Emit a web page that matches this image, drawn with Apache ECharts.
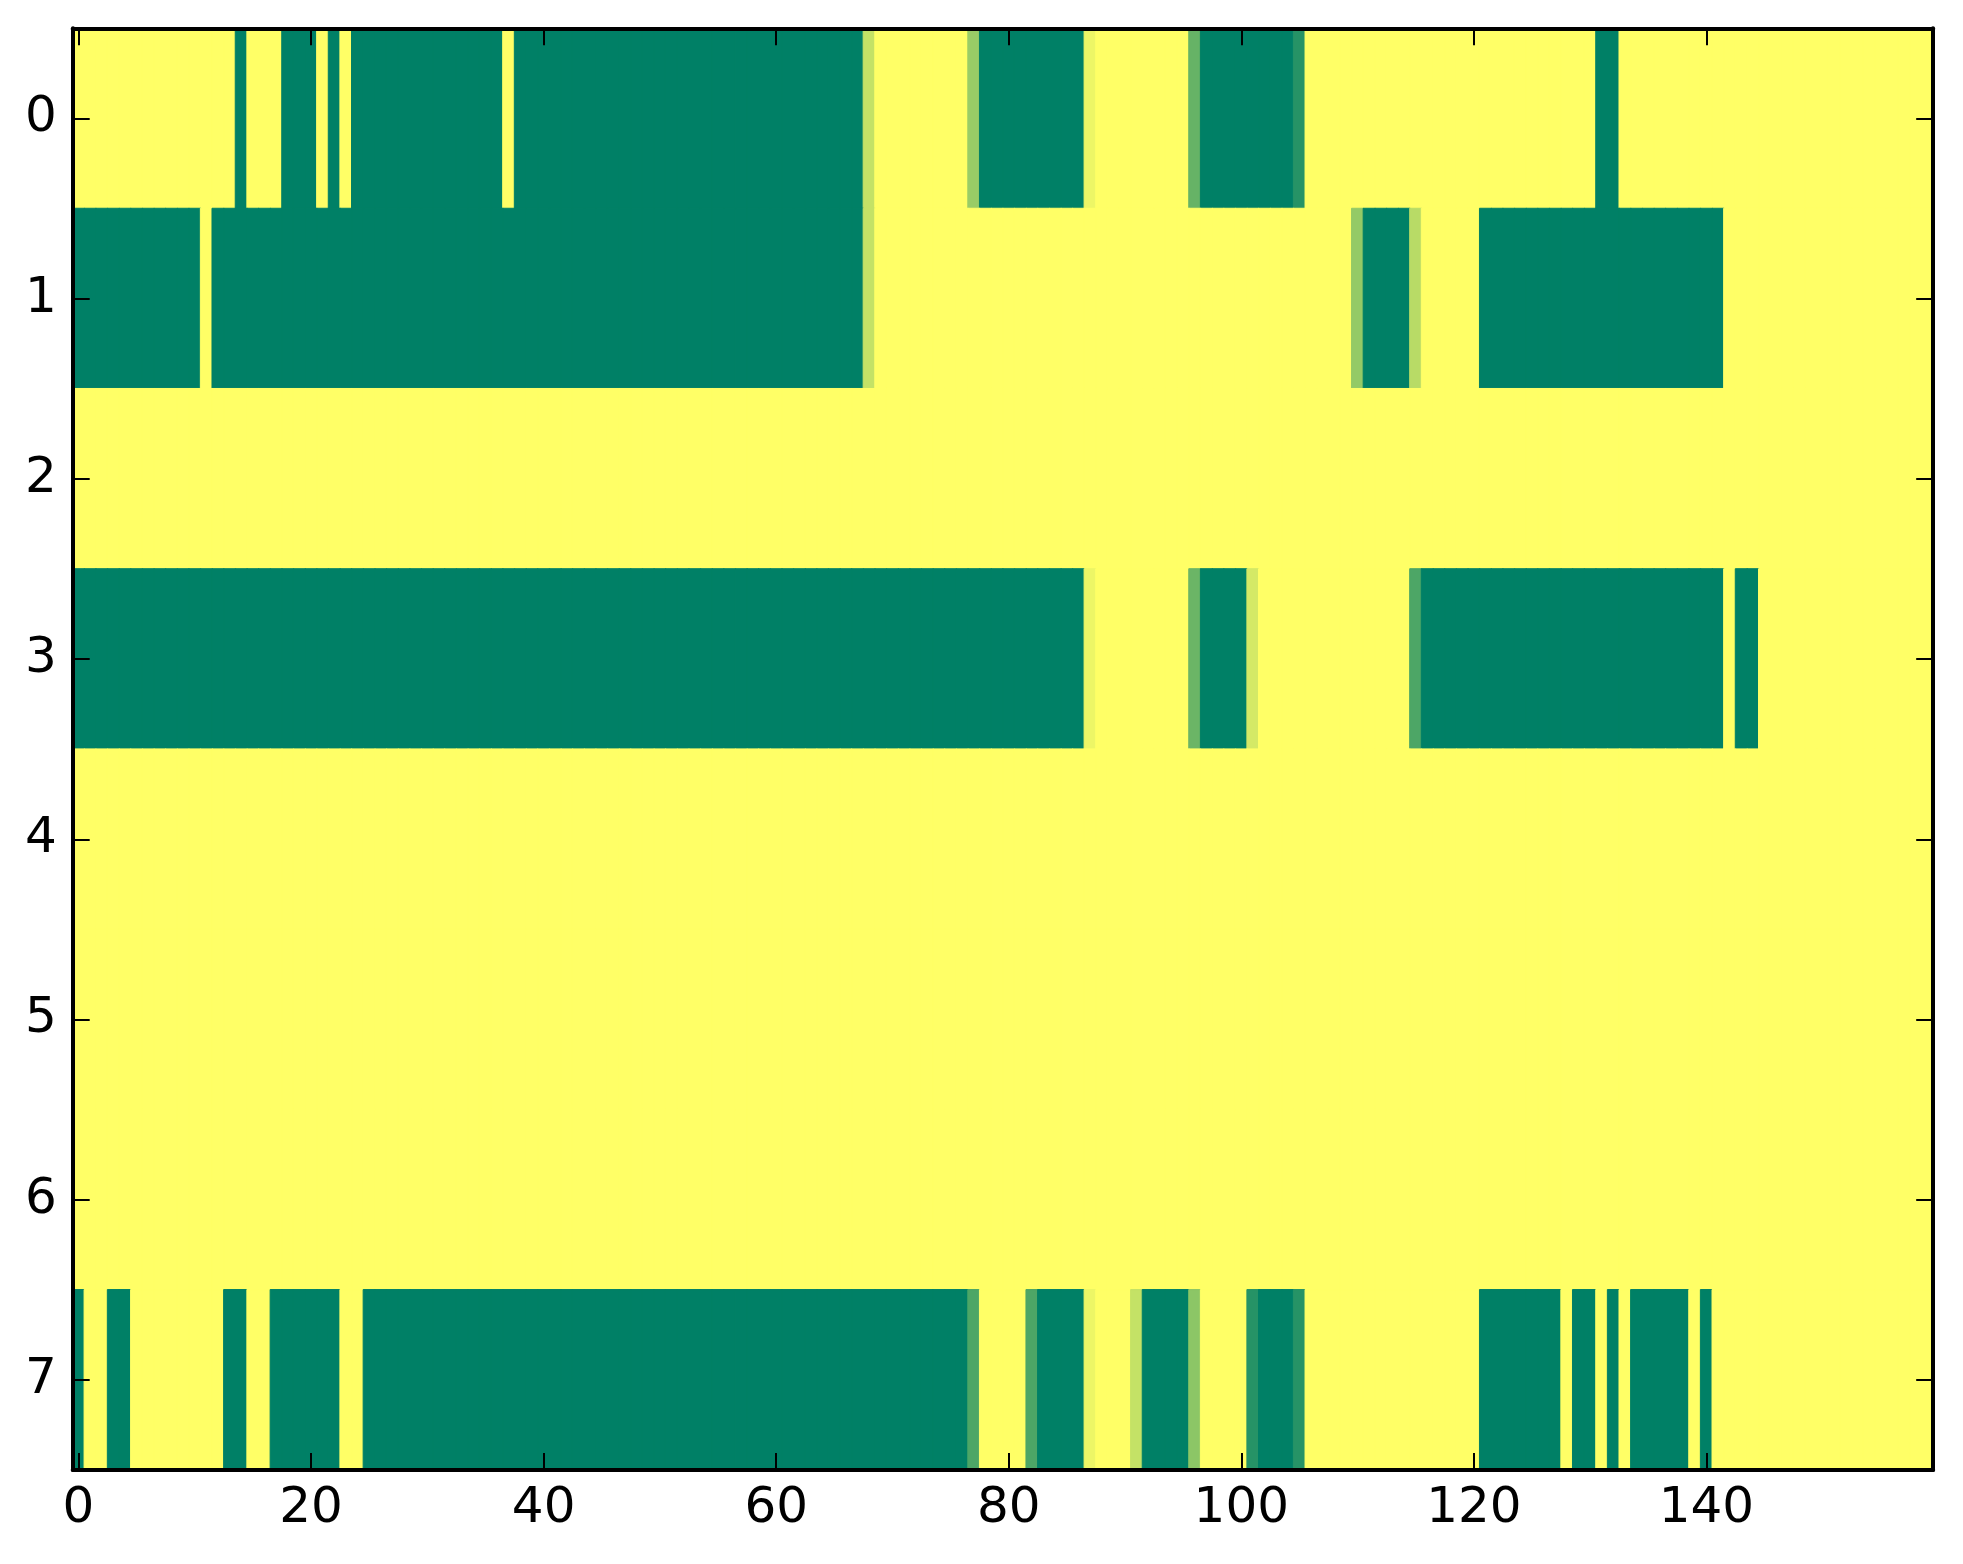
<!DOCTYPE html>
<html>
<head>
<meta charset="utf-8">
<script src="https://cdn.jsdelivr.net/npm/echarts@6/dist/echarts.min.js"></script>
<style>
html,body{margin:0;padding:0;background:#fff;}
#chart{width:1963px;height:1564px;}
</style>
</head>
<body>
<div id="chart"></div>
<script>
// Row labels (y categories), top to bottom
var rowLabels = ['0','1','2','3','4','5','6','7'];
// Tick labels on the x axis
var xTickLabels = [0, 20, 40, 60, 80, 100, 120, 140];

// Cell values per row, 160 columns each (0 = green, 1 = yellow)
var row0 = [
 1,1,1,1,1,1,1,1,1,1, 1,1,1,1,0,1,1,1,0,0,
 0,1,0,1,0,0,0,0,0,0, 0,0,0,0,0,0,0,1,0,0,
 0,0,0,0,0,0,0,0,0,0, 0,0,0,0,0,0,0,0,0,0,
 0,0,0,0,0,0,0,0,0.77,1, 1,1,1,1,1,1,1,0.6,0,0,
 0,0,0,0,0,0,0,0.93,1,1, 1,1,1,1,1,1,0.4,0,0,0,
 0,0,0,0,0,0.15,1,1,1,1, 1,1,1,1,1,1,1,1,1,1,
 1,1,1,1,1,1,1,1,1,1, 1,0,0,1,1,1,1,1,1,1,
 1,1,1,1,1,1,1,1,1,1, 1,1,1,1,1,1,1,1,1,1
];
var row1 = [
 0,0,0,0,0,0,0,0,0,0, 0,1,0,0,0,0,0,0,0,0,
 0,0,0,0,0,0,0,0,0,0, 0,0,0,0,0,0,0,0,0,0,
 0,0,0,0,0,0,0,0,0,0, 0,0,0,0,0,0,0,0,0,0,
 0,0,0,0,0,0,0,0,0.77,1, 1,1,1,1,1,1,1,1,1,1,
 1,1,1,1,1,1,1,1,1,1, 1,1,1,1,1,1,1,1,1,1,
 1,1,1,1,1,1,1,1,1,1, 0.58,0,0,0,0,0.72,1,1,1,1,
 1,0,0,0,0,0,0,0,0,0, 0,0,0,0,0,0,0,0,0,0,
 0,0,1,1,1,1,1,1,1,1, 1,1,1,1,1,1,1,1,1,1
];
var row2 = [
 1,1,1,1,1,1,1,1,1,1, 1,1,1,1,1,1,1,1,1,1,
 1,1,1,1,1,1,1,1,1,1, 1,1,1,1,1,1,1,1,1,1,
 1,1,1,1,1,1,1,1,1,1, 1,1,1,1,1,1,1,1,1,1,
 1,1,1,1,1,1,1,1,1,1, 1,1,1,1,1,1,1,1,1,1,
 1,1,1,1,1,1,1,1,1,1, 1,1,1,1,1,1,1,1,1,1,
 1,1,1,1,1,1,1,1,1,1, 1,1,1,1,1,1,1,1,1,1,
 1,1,1,1,1,1,1,1,1,1, 1,1,1,1,1,1,1,1,1,1,
 1,1,1,1,1,1,1,1,1,1, 1,1,1,1,1,1,1,1,1,1
];
var row3 = [
 0,0,0,0,0,0,0,0,0,0, 0,0,0,0,0,0,0,0,0,0,
 0,0,0,0,0,0,0,0,0,0, 0,0,0,0,0,0,0,0,0,0,
 0,0,0,0,0,0,0,0,0,0, 0,0,0,0,0,0,0,0,0,0,
 0,0,0,0,0,0,0,0,0,0, 0,0,0,0,0,0,0,0,0,0,
 0,0,0,0,0,0,0,0.93,1,1, 1,1,1,1,1,1,0.42,0,0,0,
 0,0.83,1,1,1,1,1,1,1,1, 1,1,1,1,1,0.3,0,0,0,0,
 0,0,0,0,0,0,0,0,0,0, 0,0,0,0,0,0,0,0,0,0,
 0,0,1,0,0,1,1,1,1,1, 1,1,1,1,1,1,1,1,1,1
];
var row4 = [
 1,1,1,1,1,1,1,1,1,1, 1,1,1,1,1,1,1,1,1,1,
 1,1,1,1,1,1,1,1,1,1, 1,1,1,1,1,1,1,1,1,1,
 1,1,1,1,1,1,1,1,1,1, 1,1,1,1,1,1,1,1,1,1,
 1,1,1,1,1,1,1,1,1,1, 1,1,1,1,1,1,1,1,1,1,
 1,1,1,1,1,1,1,1,1,1, 1,1,1,1,1,1,1,1,1,1,
 1,1,1,1,1,1,1,1,1,1, 1,1,1,1,1,1,1,1,1,1,
 1,1,1,1,1,1,1,1,1,1, 1,1,1,1,1,1,1,1,1,1,
 1,1,1,1,1,1,1,1,1,1, 1,1,1,1,1,1,1,1,1,1
];
var row5 = [
 1,1,1,1,1,1,1,1,1,1, 1,1,1,1,1,1,1,1,1,1,
 1,1,1,1,1,1,1,1,1,1, 1,1,1,1,1,1,1,1,1,1,
 1,1,1,1,1,1,1,1,1,1, 1,1,1,1,1,1,1,1,1,1,
 1,1,1,1,1,1,1,1,1,1, 1,1,1,1,1,1,1,1,1,1,
 1,1,1,1,1,1,1,1,1,1, 1,1,1,1,1,1,1,1,1,1,
 1,1,1,1,1,1,1,1,1,1, 1,1,1,1,1,1,1,1,1,1,
 1,1,1,1,1,1,1,1,1,1, 1,1,1,1,1,1,1,1,1,1,
 1,1,1,1,1,1,1,1,1,1, 1,1,1,1,1,1,1,1,1,1
];
var row6 = [
 1,1,1,1,1,1,1,1,1,1, 1,1,1,1,1,1,1,1,1,1,
 1,1,1,1,1,1,1,1,1,1, 1,1,1,1,1,1,1,1,1,1,
 1,1,1,1,1,1,1,1,1,1, 1,1,1,1,1,1,1,1,1,1,
 1,1,1,1,1,1,1,1,1,1, 1,1,1,1,1,1,1,1,1,1,
 1,1,1,1,1,1,1,1,1,1, 1,1,1,1,1,1,1,1,1,1,
 1,1,1,1,1,1,1,1,1,1, 1,1,1,1,1,1,1,1,1,1,
 1,1,1,1,1,1,1,1,1,1, 1,1,1,1,1,1,1,1,1,1,
 1,1,1,1,1,1,1,1,1,1, 1,1,1,1,1,1,1,1,1,1
];
var row7 = [
 0,1,1,0,0,1,1,1,1,1, 1,1,1,0,0,1,1,0,0,0,
 0,0,0,1,1,0,0,0,0,0, 0,0,0,0,0,0,0,0,0,0,
 0,0,0,0,0,0,0,0,0,0, 0,0,0,0,0,0,0,0,0,0,
 0,0,0,0,0,0,0,0,0,0, 0,0,0,0,0,0,0,0.3,1,1,
 1,1,0.3,0,0,0,0,0.93,1,1, 1,0.77,0,0,0,0,0.55,1,1,1,
 1,0.15,0,0,0,0.15,1,1,1,1, 1,1,1,1,1,1,1,1,1,1,
 1,0,0,0,0,0,0,0,1,0, 0,1,0,1,0,0,0,0,0,1,
 0,1,1,1,1,1,1,1,1,1, 1,1,1,1,1,1,1,1,1,1
];

var rows = [row0, row1, row2, row3, row4, row5, row6, row7];
var nCols = row0.length;
var colCats = [];
for (var c = 0; c < nCols; c++) colCats.push(String(c));

// colormap ends (matplotlib 'summer')
var cmap = ['#008066', '#ffff66'];
function cmapColor(v) {
  var r = Math.round(0 + 255 * v);
  var g = Math.round(128 + 127 * v);
  var b = 102;
  return 'rgb(' + r + ',' + g + ',' + b + ')';
}

var cells = [];
for (var r = 0; r < rows.length; r++) {
  for (var c2 = 0; c2 < nCols; c2++) {
    var v = rows[r][c2];
    // thin same-colour border hides anti-aliasing seams between cells
    cells.push({value: [c2, r, v], itemStyle: {borderColor: cmapColor(v), borderWidth: 1}});
  }
}

function isXTick(idx) { return xTickLabels.indexOf(idx) !== -1; }

var font = {fontFamily: 'DejaVu Sans', fontSize: 50, color: '#000'};
var lineStyle = {color: '#000', width: 4};
var tickStyle = {color: '#000', width: 2};

var chart = echarts.init(document.getElementById('chart'), null, {renderer: 'canvas'});
chart.setOption({
  animation: false,
  backgroundColor: '#fff',
  grid: {left: 72.7, top: 28.3, width: 1860.5, height: 1441.7, containLabel: false},
  xAxis: [
    {type: 'category', data: colCats, position: 'bottom', z: 5,
     axisLine: {show: true, lineStyle: lineStyle},
     axisTick: {show: true, inside: true, length: 17, alignWithLabel: true, interval: isXTick, lineStyle: tickStyle},
     axisLabel: Object.assign({show: true, margin: 14, interval: isXTick}, font),
     splitLine: {show: false}, splitArea: {show: false}},
    {type: 'category', data: colCats, position: 'top', z: 5,
     axisLine: {show: true, lineStyle: lineStyle},
     axisTick: {show: true, inside: true, length: 17, alignWithLabel: true, interval: isXTick, lineStyle: tickStyle},
     axisLabel: {show: false},
     splitLine: {show: false}, splitArea: {show: false}}
  ],
  yAxis: [
    {type: 'category', data: rowLabels, inverse: true, position: 'left', z: 5,
     axisLine: {show: true, lineStyle: lineStyle},
     axisTick: {show: true, inside: true, length: 17, alignWithLabel: true, lineStyle: tickStyle},
     axisLabel: Object.assign({show: true, margin: 16}, font),
     splitLine: {show: false}, splitArea: {show: false}},
    {type: 'category', data: rowLabels, inverse: true, position: 'right', z: 5,
     axisLine: {show: true, lineStyle: lineStyle},
     axisTick: {show: true, inside: true, length: 17, alignWithLabel: true, lineStyle: tickStyle},
     axisLabel: {show: false},
     splitLine: {show: false}, splitArea: {show: false}}
  ],
  visualMap: {
    type: 'continuous', show: false, min: 0, max: 1, dimension: 2,
    inRange: {color: cmap}
  },
  series: [{
    type: 'heatmap', xAxisIndex: 0, yAxisIndex: 0,
    data: cells, progressive: 0,
    emphasis: {disabled: true}
  }]
});
</script>
</body>
</html>
